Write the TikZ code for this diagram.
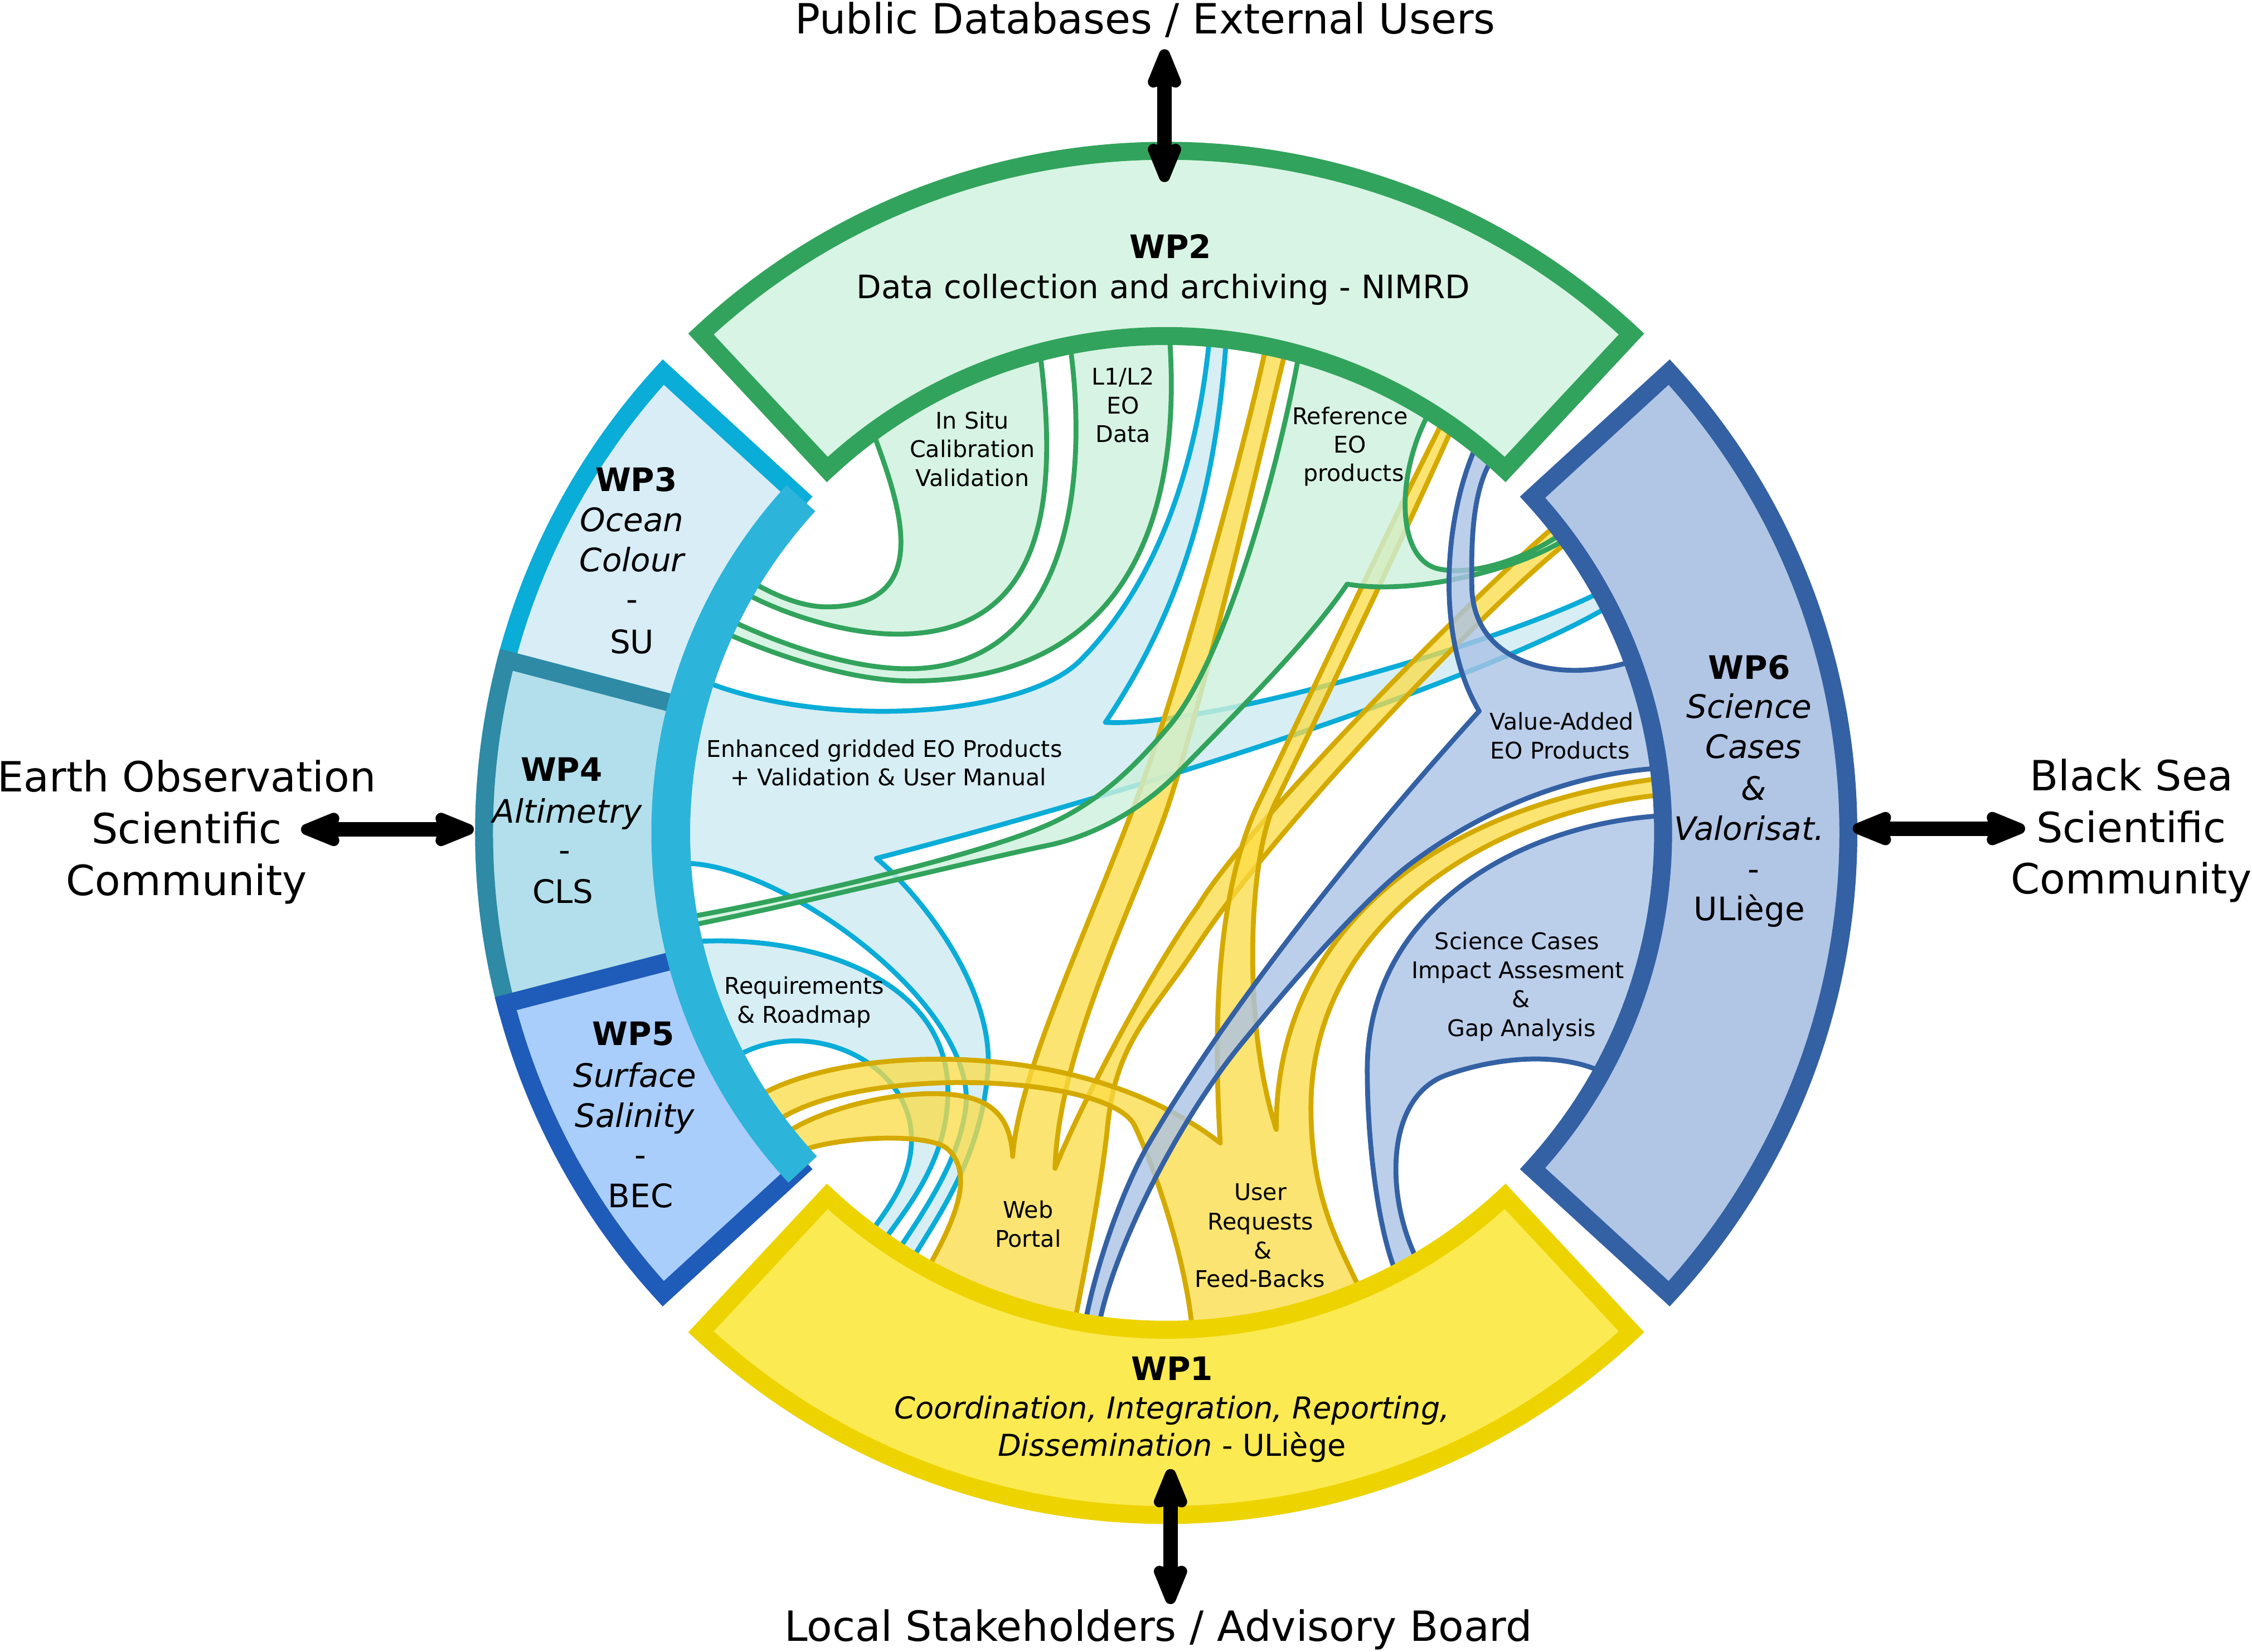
\documentclass[tikz,border=0pt]{standalone}
\usepackage{fontspec}
\setmainfont{DejaVu Sans}
\usetikzlibrary{arrows.meta}
\definecolor{gS}{RGB}{50,163,92}
\definecolor{gF}{RGB}{216,244,228}
\definecolor{cS}{RGB}{10,172,216}
\definecolor{cThreeF}{RGB}{216,237,245}
\definecolor{cFourS}{RGB}{46,138,165}
\definecolor{cFourF}{RGB}{178,223,235}
\definecolor{cFiveS}{RGB}{31,91,185}
\definecolor{cFiveF}{RGB}{170,206,252}
\definecolor{bandC}{RGB}{45,180,218}
\definecolor{bS}{RGB}{52,97,163}
\definecolor{bSixF}{RGB}{177,197,229}
\definecolor{yRingS}{RGB}{237,212,0}
\definecolor{yRingF}{RGB}{252,234,82}
\definecolor{yrS}{RGB}{212,170,0}
\definecolor{grF}{RGB}{205,241,220}
\definecolor{crF}{RGB}{206,234,242}
\definecolor{yrF}{RGB}{252,220,68}
\definecolor{brF}{RGB}{171,195,230}
\begin{document}
\begin{tikzpicture}[x=1pt,y=1pt,
  rib/.style={line width=3.4pt,line join=round},
  cyr/.style={rib,draw=cS,fill=crF,fill opacity=0.8},
  ylr/.style={rib,draw=yrS,fill=yrF,fill opacity=0.75},
  grr/.style={rib,draw=gS,fill=grF,fill opacity=0.8},
  blr/.style={rib,draw=bS,fill=brF,fill opacity=0.8},
  ring/.style={line width=12.5pt,line join=miter},
  big/.style={font=\fontsize{29}{36}\selectfont,anchor=base,inner sep=0pt},
  wpt/.style={font=\fontsize{22.5}{28}\selectfont,anchor=base,inner sep=0pt},
  wpo/.style={font=\fontsize{21}{26}\selectfont,anchor=base,inner sep=0pt},
  sml/.style={font=\fontsize{16}{20}\selectfont,anchor=base,inner sep=0pt},
  dblarrow/.style={line width=10pt,{Stealth[length=35pt,width=27pt,inset=4pt,round]}-{Stealth[length=35pt,width=27pt,inset=4pt,round]}}
]
\useasboundingbox (-812,-570) rectangle (756,580);
\fill[white] (-812,-570) rectangle (756,580);

% ---------------- cyan ribbons ----------------
\path[cyr] (85:352) .. controls (22,250) and (-10,170) .. (-60,120)
  .. controls (-100,80) and (-240,72) .. (161.8:340)
  -- (183.6:340)
  .. controls (-272.4,-17.1) and (-130,-120) .. (-139.7,-192.3)
  .. controls (-145,-232) and (-172.9,-269.3) .. (237.3:352)
  arc[start angle=237.3,end angle=239.2,radius=352]
  .. controls (-158.6,-266.3) and (-130,-228) .. (-124.4,-168.7)
  .. controls (-118,-110) and (-170.9,-43.3) .. (-201.7,-17.7)
  .. controls (40,45) and (250,120) .. (27.2:352)
  arc[start angle=27.2,end angle=29,radius=352]
  .. controls (244.9,135.8) and (30,73) .. (-42.3,77)
  .. controls (20,170) and (36,260) .. (83.1:352)
  arc[start angle=83.1,end angle=85,radius=352]
  -- cycle;
\path[cyr] (192.9:340) .. controls (-250,-70) and (-152,-100) .. (-152,-180)
  .. controls (-152,-230) and (-182.3,-262.9) .. (235.3:352)
  arc[start angle=235.3,end angle=233.5,radius=352]
  .. controls (-193.3,-261.3) and (-178.5,-242) .. (-177.4,-215.9)
  .. controls (-175,-160) and (-250,-125) .. (207.5:340)
  -- cycle;

% ---------------- yellow ribbons ----------------
\path[ylr] (218.3:340) .. controls (-239,-189) and (-160,-172) .. (-128.1,-187.6)
  .. controls (-115.3,-193.8) and (-108,-205) .. (-106.9,-225.3)
  .. controls (-103,-170) and (-60,-80) .. (-21.9,20)
  .. controls (4.8,90) and (54.7,266.5) .. (78.4:352)
  arc[start angle=78.4,end angle=76.1,radius=352]
  .. controls (65.4,264) and (25,90) .. (1.7,20)
  .. controls (-20.4,-46.4) and (-75,-150) .. (-77.4,-233.6)
  .. controls (-60,-190) and (-10,-95) .. (22.3,-50.7)
  .. controls (55,5) and (229.1,181) .. (38.3:352)
  arc[start angle=38.3,end angle=35.96,radius=352]
  .. controls (236.3,171.5) and (80,10) .. (22.3,-77.5)
  .. controls (-10.7,-127.6) and (-34.8,-144.7) .. (-40.8,-204.1)
  .. controls (-45.3,-248.7) and (-59.2,-316.5) .. (259.4:352)
  arc[start angle=259.4,end angle=241.3,radius=352]
  .. controls (-150,-275) and (-132,-240) .. (-151.7,-220.6)
  .. controls (-165,-207.5) and (-235,-212) .. (220.9:340)
  -- cycle;
\path[ylr] (212.85:340) .. controls (-228,-148) and (-60,-140) .. (37.6,-215.9)
  .. controls (33,-140) and (33.9,-43) .. (64,20)
  .. controls (102.7,101) and (155.1,212.6) .. (56.24:352)
  arc[start angle=56.24,end angle=55,radius=352]
  .. controls (165,205) and (100,70) .. (75.5,20)
  .. controls (57.9,-16) and (52,-130) .. (76.6,-206.5)
  .. controls (76,-60) and (200,22) .. (6.3:352)
  arc[start angle=6.3,end angle=4.4,radius=352]
  .. controls (231,17.8) and (100,-60) .. (100.8,-192.3)
  .. controls (101,-260) and (123.8,-291.8) .. (293:352)
  arc[start angle=293,end angle=273,radius=352]
  .. controls (16,-306.5) and (-5,-240) .. (-21.9,-204.1)
  .. controls (-38.9,-167.9) and (-217,-160.5) .. (216.5:340)
  -- cycle;

% ---------------- green ribbons ----------------
\path[grr] (125.9:352) .. controls (-190,240) and (-155,157.4) .. (-236.6,157.4)
  .. controls (-255,157.4) and (-275.4,166.8) .. (148.8:340)
  -- (150.35:340)
  .. controls (-269.4,153.4) and (-225,138.4) .. (-187,138.4)
  .. controls (-80,138.4) and (-75,240) .. (104.6:352)
  arc[start angle=104.6,end angle=125.9,radius=352]
  -- cycle;
\path[grr] (101.1:352) .. controls (-52,240) and (-70,114.3) .. (-179.9,114.3)
  .. controls (-225,114.3) and (-278.6,135.9) .. (154:340)
  -- (155.6:340)
  .. controls (-282.3,128) and (-225,105.8) .. (-177.6,105.8)
  .. controls (-20,105.8) and (12,230) .. (89.7:352)
  arc[start angle=89.7,end angle=101.1,radius=352]
  -- cycle;
\path[grr] (74.6:352) .. controls (78,250) and (40,120) .. (3,75.5)
  .. controls (-25,42) and (-50,20) .. (-82.5,5.6)
  .. controls (-130,-15.5) and (-260.9,-46) .. (190:340)
  -- (191:340)
  .. controls (-260.2,-50.6) and (-130,-18.5) .. (-82.5,-8.7)
  .. controls (-50,-2) and (-16.3,16.7) .. (8.1,41.8)
  .. controls (60,95) and (100,135) .. (126,173.2)
  .. controls (175,165) and (251.5,184.7) .. (36.3:352)
  arc[start angle=36.3,end angle=37.1,radius=352]
  .. controls (252.9,191.2) and (215,178.9) .. (190.3,183.7)
  .. controls (158,190) and (160,256.1) .. (58:352)
  arc[start angle=58,end angle=74.6,radius=352]
  -- cycle;

% ---------------- blue ribbons ----------------
\path[blr] (51.55:352) .. controls (195,230) and (185,140) .. (217.9,84.8)
  .. controls (150,10) and (50,-110) .. (-11.8,-215.9)
  .. controls (-32,-250.5) and (-51,-307.8) .. (260.6:352)
  arc[start angle=260.6,end angle=262.2,radius=352]
  .. controls (-41,-299.2) and (5,-205) .. (52,-147.3)
  .. controls (80.4,-112.4) and (134.8,-48) .. (170.8,-21)
  .. controls (206.8,6) and (270,42) .. (7.4:352)
  arc[start angle=7.4,end angle=20.2,radius=352]
  .. controls (278.7,102.5) and (215,115) .. (212.8,170)
  .. controls (212.6,195) and (211.2,243.1) .. (49:352)
  arc[start angle=49,end angle=51.55,radius=352]
  -- cycle;
\path[blr] (2:352) .. controls (251.8,8.8) and (140,-50) .. (140,-165)
  .. controls (140,-220) and (148.8,-285.5) .. (297.55:352)
  arc[start angle=297.55,end angle=300.4,radius=352]
  .. controls (152.8,-260.5) and (150,-185) .. (194.9,-168.7)
  .. controls (225,-157.8) and (273.7,-149.9) .. (331.3:352)
  arc[start angle=331.3,end angle=362,radius=352]
  -- cycle;

% ---------------- ring segments ----------------
\path[ring,draw=cS,fill=cThreeF] (137.5:346) arc[start angle=137.5,end angle=165.3,radius=346] -- (165.3:475) arc[start angle=165.3,end angle=137.5,radius=475] -- cycle;
\path[ring,draw=cFourS,fill=cFourF] (165.3:346) arc[start angle=165.3,end angle=194.5,radius=346] -- (194.5:475) arc[start angle=194.5,end angle=165.3,radius=475] -- cycle;
\path[ring,draw=cFiveS,fill=cFiveF] (194.5:346) arc[start angle=194.5,end angle=222.5,radius=346] -- (222.5:475) arc[start angle=222.5,end angle=194.5,radius=475] -- cycle;
\draw[line width=27pt,draw=bandC] (137.5:345) arc[start angle=137.5,end angle=222.8,radius=345];
\path[ring,draw=gS,fill=gF] (47:346) arc[start angle=47,end angle=133,radius=346] -- (133:475) arc[start angle=133,end angle=47,radius=475] -- cycle;
\path[ring,draw=bS,fill=bSixF] (-42.5:346) arc[start angle=-42.5,end angle=42.5,radius=346] -- (42.5:475) arc[start angle=42.5,end angle=-42.5,radius=475] -- cycle;
\path[ring,draw=yRingS,fill=yRingF] (227:346) arc[start angle=227,end angle=313,radius=346] -- (313:475) arc[start angle=313,end angle=227,radius=475] -- cycle;

% ---------------- arrows ----------------
\coordinate (topA) at (-1.2,545.7);
\coordinate (topB) at (-1.2,453.2);
\coordinate (botA) at (3,-443);
\coordinate (botB) at (3,-537);
\coordinate (lefA) at (-602.4,2.4);
\coordinate (lefB) at (-482.1,2.4);
\coordinate (rigA) at (478,3);
\coordinate (rigB) at (598,3);
\draw[dblarrow] (topA) -- (topB);
\draw[dblarrow] (botA) -- (botB);
\draw[dblarrow] (lefA) -- (lefB);
\draw[dblarrow] (rigA) -- (rigB);

% ---------------- outer labels ----------------
\node[big] (tPub) at (-14.5,556.5) {Public Databases / External Users};
\node[big] (tLoc) at (-5.5,-563) {Local Stakeholders / Advisory Board};
\node[big] (tEa) at (-682,28.5) {Earth Observation};
\node[big] (tEb) at (-682,-7.5) {Scientific};
\node[big] (tEc) at (-682,-43.5) {Community};
\node[big] (tBa) at (672,29.5) {Black Sea};
\node[big] (tBb) at (672,-6.5) {Scientific};
\node[big] (tBc) at (672,-42.5) {Community};

% ---------------- WP labels ----------------
\node[wpt] (wpTwoA) at (3,400) {\bfseries WP2};
\node[wpt] (wpTwoB) at (-2,372) {Data collection and archiving - NIMRD};
\node[wpt] (wpThrA) at (-369,238) {\bfseries WP3};
\node[wpt] (wpThrB) at (-372,210) {\itshape Ocean};
\node[wpt] (wpThrC) at (-372,182) {\itshape Colour};
\node[wpt] (wpThrD) at (-372,155) {-};
\node[wpt] (wpThrE) at (-372,125) {SU};
\node[wpt] (wpFouA) at (-421,36) {\bfseries WP4};
\node[wpt] (wpFouB) at (-417,7) {\itshape Altimetry};
\node[wpt] (wpFouC) at (-419,-20) {-};
\node[wpt] (wpFouD) at (-420,-49) {CLS};
\node[wpt] (wpFivA) at (-371,-148) {\bfseries WP5};
\node[wpt] (wpFivB) at (-370,-177) {\itshape Surface};
\node[wpt] (wpFivC) at (-370,-205) {\itshape Salinity};
\node[wpt] (wpFivD) at (-366,-232) {-};
\node[wpt] (wpFivE) at (-366,-261) {BEC};
\node[wpt] (wpSixA) at (406,107) {\bfseries WP6};
\node[wpt] (wpSixB) at (406,80) {\itshape Science};
\node[wpt] (wpSixC) at (409,52) {\itshape Cases};
\node[wpt] (wpSixD) at (409,23) {\itshape \&};
\node[wpt] (wpSixE) at (406,-5) {\itshape Valorisat.};
\node[wpt] (wpSixF) at (409,-33) {-};
\node[wpt] (wpSixG) at (406,-61) {ULiège};
\node[wpt] (wpOneA) at (4,-381) {\bfseries WP1};
\node[wpo] (wpOneB) at (4,-408) {\itshape Coordination, Integration, Reporting,};
\node[wpo] (wpOneC) at (4,-434) {{\itshape Dissemination} - ULiège};

% ---------------- ribbon labels ----------------
\node[sml] (lIsA) at (-135,281.5) {In Situ};
\node[sml] (lIsB) at (-135,261.5) {Calibration};
\node[sml] (lIsC) at (-135,241.5) {Validation};
\node[sml] (lLoA) at (-30,312) {L1/L2};
\node[sml] (lLoB) at (-30,292) {EO};
\node[sml] (lLoC) at (-30,272) {Data};
\node[sml] (lReA) at (128,284.3) {Reference};
\node[sml] (lReB) at (128,264.7) {EO};
\node[sml] (lReC) at (130.5,244.7) {products};
\node[sml] (lEnA) at (-196.3,52.9) {Enhanced gridded EO Products};
\node[sml] (lEnB) at (-193.4,32.8) {+ Validation \& User Manual};
\node[sml] (lVaA) at (275.3,71.8) {Value-Added};
\node[sml] (lVaB) at (274.2,51.6) {EO Products};
\node[sml] (lRqA) at (-252,-112.1) {Requirements};
\node[sml] (lRqB) at (-252,-132.2) {\& Roadmap};
\node[sml] (lWeA) at (-96.2,-268.3) {Web};
\node[sml] (lWeB) at (-96.2,-288.3) {Portal};
\node[sml] (lUsA) at (65.6,-256) {User};
\node[sml] (lUsB) at (65.6,-276.5) {Requests};
\node[sml] (lUsC) at (67.4,-296.6) {\&};
\node[sml] (lUsD) at (65.2,-316.2) {Feed-Backs};
\node[sml] (lScA) at (244.3,-81) {Science Cases};
\node[sml] (lScB) at (245,-101.5) {Impact Assesment};
\node[sml] (lScC) at (247,-121.5) {\&};
\node[sml] (lScD) at (247.3,-141.6) {Gap Analysis};
\end{tikzpicture}
\end{document}
